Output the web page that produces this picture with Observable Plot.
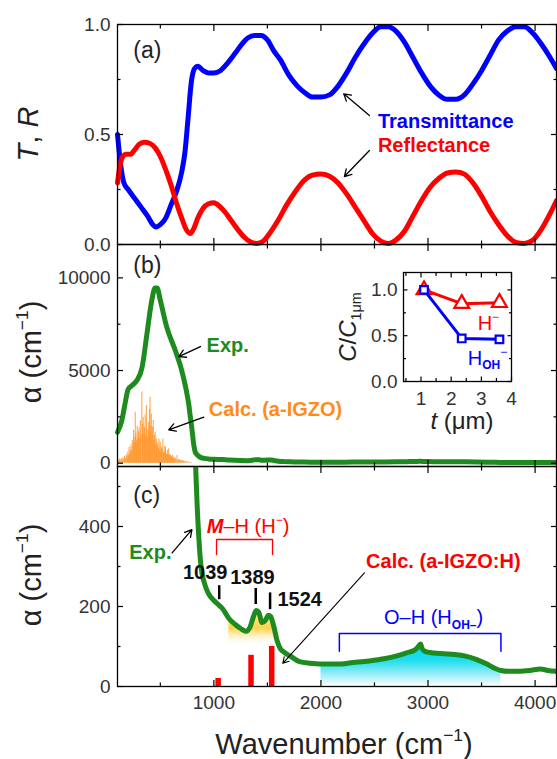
<!DOCTYPE html>
<html><head><meta charset="utf-8">
<script src="https://cdn.jsdelivr.net/npm/d3@7"></script>
<script src="https://cdn.jsdelivr.net/npm/@observablehq/plot@0.6"></script>
<style>
body{margin:0;background:#fff;}
#chart{position:relative;width:557px;height:759px;font-family:"Liberation Sans",Arial,Helvetica,sans-serif;overflow:hidden;background:#fff;}
#chart svg{position:absolute;left:0;}
.lbl{position:absolute;white-space:nowrap;line-height:1;}
.lbl sup{font-size:0.6em;position:relative;top:-0.75em;vertical-align:baseline;}
.lbl sub{font-size:0.6em;position:relative;top:0.35em;vertical-align:baseline;}
</style></head><body><div id="chart"></div>
<script>
// ---------- data ----------
const wavenumberT = [100,130,160,200,260,320,380,430,460,500,550,600,650,700,730,760,790,820,850,900,950,1000,1060,1120,1200,1260,1320,1380,1440,1500,1560,1620,1700,1780,1850,1920,2000,2080,2160,2240,2320,2400,2480,2560,2630,2700,2780,2860,2940,3020,3100,3180,3260,3340,3420,3500,3580,3660,3740,3820,3900,3980,4060,4140,4200];
const transmittance = [0.50,0.36,0.28,0.25,0.21,0.17,0.13,0.09,0.08,0.09,0.12,0.18,0.24,0.33,0.42,0.58,0.74,0.80,0.81,0.79,0.78,0.78,0.79,0.82,0.87,0.91,0.94,0.95,0.95,0.93,0.88,0.84,0.77,0.72,0.69,0.67,0.67,0.68,0.72,0.78,0.85,0.91,0.96,0.99,0.99,0.97,0.92,0.85,0.78,0.72,0.68,0.66,0.66,0.68,0.73,0.79,0.86,0.93,0.97,0.99,0.99,0.96,0.91,0.85,0.80];
const wavenumberR = [100,120,150,180,220,260,300,350,400,450,500,550,600,650,700,740,780,810,850,900,950,1000,1050,1100,1160,1220,1280,1340,1400,1460,1520,1600,1680,1760,1840,1920,2000,2080,2160,2240,2320,2400,2480,2560,2630,2700,2780,2860,2940,3020,3100,3180,3260,3340,3420,3500,3580,3660,3740,3820,3900,3980,4060,4140,4200];
const reflectance = [0.28,0.35,0.40,0.41,0.41,0.43,0.455,0.465,0.46,0.44,0.40,0.34,0.27,0.19,0.12,0.07,0.05,0.07,0.12,0.165,0.185,0.19,0.175,0.15,0.11,0.07,0.035,0.012,0.005,0.015,0.05,0.11,0.18,0.24,0.29,0.315,0.32,0.31,0.28,0.23,0.17,0.11,0.05,0.015,0.005,0.02,0.06,0.13,0.20,0.26,0.30,0.325,0.33,0.32,0.28,0.22,0.15,0.09,0.04,0.01,0.005,0.02,0.07,0.14,0.20];

const expWavenumber = [100,140,170,200,235,280,330,375,420,450,470,500,560,640,700,740,765,780,797,812,825,840,860,880,910,950,1000,1040,1080,1140,1200,1250,1300,1340,1370,1395,1420,1450,1480,1510,1530,1560,1590,1620,1660,1720,1800,1900,2000,2150,2300,2450,2600,2700,2800,2880,2910,2930,2945,2970,3050,3150,3250,3350,3450,3550,3620,3680,3750,3850,3950,4050,4120,4200];
const expAlpha = [1670,2300,3200,4000,4190,4460,5180,6980,8780,9450,9450,8780,7340,6080,5000,4000,3200,2500,1760,1000,620,480,370,300,260,232,215,205,195,170,155,145,138,150,175,190,185,160,165,178,175,150,115,95,85,75,62,58,56,56,60,64,70,76,84,92,100,106,95,88,84,82,80,76,68,56,46,40,38,38,40,44,40,38];

const calcIGZOWavenumber = [110,118,126,134,142,150,158,166,174,182,190,196,202,208,214,220,226,232,238,244,250,256,262,266,272,278,284,290,296,302,308,314,320,328,334,340,346,352,358,364,370,376,382,388,394,400,404,410,416,422,428,434,440,446,452,458,464,470,476,482,488,494,500,506,512,518,524,530,536,542,548,554,560,566,572,578,584,590,596,602,608,614,620,626,632,640,648,656,664,672,680,688,696,704,712,720,730,740,750,760,775,790];
const calcIGZOAlpha = [150,220,120,260,180,300,200,380,250,450,320,600,420,860,520,700,1000,640,1220,900,1760,1100,1400,2750,1580,1200,2000,1350,1700,1900,1300,2300,1500,3830,2100,2480,1600,1940,2600,1500,3110,1800,1400,2210,1700,2900,3560,2000,2660,1600,1940,2300,1220,1500,1670,1000,1300,950,1100,800,1310,700,1130,600,860,750,1310,550,600,900,860,480,500,680,450,780,400,470,410,320,360,410,250,320,230,280,180,410,150,200,180,120,150,100,140,90,110,70,90,60,50,40];

const calcIGZOHWavenumber = [1040,1347,1540];
const calcIGZOHAlpha = [20,78,100];

const insetThickness = [1.1,2.35,3.6];
const insetHminus = [1.0,0.85,0.86];
const insetHOH = [1.0,0.47,0.46];

const xMajorTicks = [1000,2000,3000,4000];
const xMinorTicks = [500,1500,2500,3500];
const peakLabels = ["1039","1389","1524"];
const peakTickX = [1050,1391,1525];

// ---------- helpers ----------
const FONT = '"Liberation Sans", Arial, Helvetica, sans-serif';
const chart = document.getElementById("chart");
const X_DOMAIN = [100, 4200];
const zip = (xs, ys) => xs.map((x, i) => ({x, y: ys[i]}));

function axesMarks({yMajor, yMinor, yFormat, xLabels, xMaj = xMajorTicks, xMin = xMinorTicks, major = 6, minor = 3.5, xPad = 9, yPad = 7}) {
  const m = [];
  for (const anchor of ["bottom", "top"]) {
    m.push(Plot.axisX({anchor, ticks: xMaj, tickSize: -major, tickFormat: () => "", label: null, color: "black", strokeWidth: 1.2}));
    m.push(Plot.axisX({anchor, ticks: xMin, tickSize: -minor, tickFormat: () => "", label: null, color: "black", strokeWidth: 1.2}));
  }
  for (const anchor of ["left", "right"]) {
    m.push(Plot.axisY({anchor, ticks: yMajor, tickSize: -major, tickFormat: () => "", label: null, color: "black", strokeWidth: 1.2}));
    m.push(Plot.axisY({anchor, ticks: yMinor, tickSize: -minor, tickFormat: () => "", label: null, color: "black", strokeWidth: 1.2}));
  }
  m.push(Plot.axisY({anchor: "left", ticks: yMajor, tickSize: 0, tickPadding: yPad, tickFormat: yFormat, label: null, color: "#333", fontSize: 19}));
  if (xLabels) m.push(Plot.axisX({anchor: "bottom", ticks: xMaj, tickSize: 0, tickPadding: xPad, tickFormat: d => String(d), label: null, color: "#333", fontSize: 19}));
  m.push(Plot.frame({stroke: "black", strokeWidth: 1.3}));
  return m;
}
const txt = (t, x, y, opts = {}) => Plot.text([{t, x, y}], {x: "x", y: "y", text: "t", textAnchor: "start", fontSize: 20, fontWeight: "bold", ...opts});
const arr = (x1, y1, x2, y2, opts = {}) => Plot.arrow([{x1, y1, x2, y2}], {x1: "x1", y1: "y1", x2: "x2", y2: "y2", stroke: "black", strokeWidth: 1.3, headLength: 9, ...opts});
const place = (svg, top) => { svg.style.top = top + "px"; chart.append(svg); return svg; };
function label(html, x, y, {size = 20, color = "black", weight = "normal", anchor = "middle", rotate = 0} = {}) {
  const d = document.createElement("div");
  d.className = "lbl";
  d.innerHTML = html;
  d.style.left = x + "px"; d.style.top = y + "px";
  d.style.fontSize = size + "px"; d.style.color = color; d.style.fontWeight = weight;
  const tx = anchor === "start" ? "0" : anchor === "end" ? "-100%" : "-50%";
  d.style.transform = `translate(${tx}, -50%)` + (rotate ? ` rotate(${rotate}deg)` : "");
  chart.append(d);
}
const baseStyle = {background: "transparent", fontFamily: FONT, overflow: "visible"};

// ---------- panel (a) ----------
const plotA = place(Plot.plot({
  width: 557, height: 250, marginLeft: 117, marginRight: 1, marginTop: 24, marginBottom: 6,
  x: {domain: X_DOMAIN}, y: {domain: [0, 1]}, style: baseStyle,
  marks: [
    Plot.line(zip(wavenumberT, transmittance), {x: "x", y: "y", stroke: "#0000ff", strokeWidth: 5, curve: "monotone-x"}),
    Plot.line(zip(wavenumberR, reflectance), {x: "x", y: "y", stroke: "#ff0000", strokeWidth: 5, curve: "monotone-x"}),
    ...axesMarks({yMajor: [0, 0.5, 1], yMinor: [0.25, 0.75], yFormat: d3.format(".1f")}),
    txt("(a)", 247, 0.882, {fontSize: 23, fontWeight: "normal", fill: "#222"}),
    txt("Transmittance", 2532, 0.559, {fill: "#0000ff"}),
    txt("Reflectance", 2532, 0.45, {fill: "#ff0000"}),
    arr(2453, 0.586, 2213, 0.685),
    arr(2453, 0.427, 2219, 0.309)
  ]
}), 0);

// ---------- panel (b) ----------
const plotB = place(Plot.plot({
  width: 557, height: 234, marginLeft: 117, marginRight: 1, marginTop: 6, marginBottom: 6,
  x: {domain: X_DOMAIN}, y: {domain: [-178, 11800]}, style: baseStyle,
  marks: [
    Plot.ruleX(zip(calcIGZOWavenumber, calcIGZOAlpha), {x: "x", y1: 0, y2: "y", stroke: "#ff8c1a", strokeWidth: 1.1, strokeOpacity: 0.75}),
    Plot.line(zip(expWavenumber, expAlpha), {x: "x", y: "y", stroke: "#1e8b1e", strokeWidth: 5, curve: "monotone-x"}),
    ...axesMarks({yMajor: [0, 5000, 10000], yMinor: [2500, 7500], yFormat: d => String(d)}),
    txt("(b)", 247, 10664, {fontSize: 23, fontWeight: "normal", fill: "#222"}),
    txt("Exp.", 932, 6348, {fill: "#1e8b1e"}),
    arr(875, 6294, 672, 5755),
    txt("Calc. (a-IGZO)", 953, 2880, {fill: "#ff8c1a"}),
    arr(906, 2481, 578, 1801)
  ]
}), 238);

// ---------- panel (c) ----------
const gradients = () => {
  const defs = document.createElementNS("http://www.w3.org/2000/svg", "defs");
  defs.innerHTML = `
    <linearGradient id="gradYellow" x1="0" y1="0" x2="0" y2="1">
      <stop offset="0" stop-color="#fff2a8"/>
      <stop offset="0.5" stop-color="#ffd24a"/>
      <stop offset="1" stop-color="#ffffff" stop-opacity="0"/>
    </linearGradient>
    <linearGradient id="gradCyan" x1="0" y1="0" x2="0" y2="1">
      <stop offset="0" stop-color="#00d4ec"/>
      <stop offset="0.4" stop-color="#22def0"/>
      <stop offset="0.8" stop-color="#b4f1f8"/>
      <stop offset="1" stop-color="#ffffff"/>
    </linearGradient>`;
  return defs;
};
const expData = zip(expWavenumber, expAlpha);
const plotC = place(Plot.plot({
  width: 557, height: 299, marginLeft: 117, marginRight: 1, marginTop: 6, marginBottom: 73,
  x: {domain: X_DOMAIN}, y: {domain: [0, 550]}, style: baseStyle,
  marks: [
    gradients,
    Plot.areaY(expData.filter(d => d.x >= 1140 && d.x <= 1600), {x: "x", y1: 100, y2: "y", fill: "url(#gradYellow)", curve: "monotone-x"}),
    Plot.areaY(expData.filter(d => d.x >= 2000 && d.x <= 3680), {x: "x", y1: 0, y2: "y", fill: "url(#gradCyan)", curve: "monotone-x"}),
    Plot.ruleX(zip(calcIGZOHWavenumber, calcIGZOHAlpha), {x: "x", y1: 0, y2: "y", stroke: "#ff0000", strokeWidth: 5.5}),
    Plot.line(expData, {x: "x", y: "y", stroke: "#1e8b1e", strokeWidth: 5, curve: "monotone-x", clip: true}),
    ...axesMarks({yMajor: [0, 200, 400], yMinor: [100, 300, 500], yFormat: d => String(d), xLabels: true}),
    txt("(c)", 247, 478, {fontSize: 23, fontWeight: "normal", fill: "#222"}),
    txt("Exp.", 210, 334, {fill: "#1e8b1e"}),
    arr(610, 334, 795, 392),
    Plot.line([{x: 1025, y: 330}, {x: 1025, y: 367.5}, {x: 1548, y: 367.5}, {x: 1548, y: 330}], {x: "x", y: "y", stroke: "#ff0000", strokeWidth: 1.3}),
    Plot.line([{x: 2172, y: 88}, {x: 2172, y: 132.5}, {x: 3681, y: 132.5}, {x: 3681, y: 88}], {x: "x", y: "y", stroke: "#0000ff", strokeWidth: 1.5}),
    Plot.ruleX(peakTickX, {x: d => d, y1: [217, 205, 192], y2: [252, 245, 234], stroke: "black", strokeWidth: 2.5}),
    txt(peakLabels[0], 919, 284, {textAnchor: "middle", fill: "#111"}),
    txt(peakLabels[1], 1360, 271.5, {textAnchor: "middle", fill: "#111"}),
    txt(peakLabels[2], 1594, 217.5, {fill: "#111"}),
    txt("Calc. (a-IGZO:H)", 2422, 313, {fill: "#ff0000"}),
    arr(2406, 284, 1644, 58, {strokeWidth: 1.1})
  ]
}), 460);

// ---------- inset ----------
const INSET_LEFT = 340, INSET_TOP = 262;
const plotI = Plot.plot({
  width: 175, height: 170, marginLeft: 63, marginRight: 4, marginTop: 10, marginBottom: 51,
  x: {domain: [0.42, 4]}, y: {domain: [0, 1.19]}, style: baseStyle,
  marks: [
    Plot.line(zip(insetThickness, insetHminus), {x: "x", y: "y", stroke: "#ff0000", strokeWidth: 3}),
    Plot.dot(zip(insetThickness, insetHminus), {x: "x", y: "y", symbol: "triangle", r: 5.5, stroke: "#ff0000", fill: "white", strokeWidth: 2.2}),
    Plot.line(zip(insetThickness, insetHOH), {x: "x", y: "y", stroke: "#0000ff", strokeWidth: 3}),
    Plot.dot(zip(insetThickness, insetHOH), {x: "x", y: "y", symbol: "square", r: 4.3, stroke: "#0000ff", fill: "white", strokeWidth: 2.2}),
    ...axesMarks({yMajor: [0, 0.5, 1], yMinor: [0.25, 0.75], yFormat: d3.format(".1f"), xLabels: true, xMaj: [1, 2, 3, 4], xMin: [0.5, 1.5, 2.5, 3.5], major: 4.5, minor: 3, xPad: 10, yPad: 6})
  ]
});
plotI.style.left = INSET_LEFT + "px";
place(plotI, INSET_TOP);

// ---------- rich-text labels ----------
const cx = (p, v, left = 0) => left + p.scale("x").apply(v);
const cy = (p, v, top) => top + p.scale("y").apply(v);
label("<i>T</i>, <i>R</i>", 28, 134, {size: 29, color: "#222", rotate: -90});
label("α (cm<sup>−1</sup>)", 31, 352, {size: 29, color: "#222", rotate: -90});
label("α (cm<sup>−1</sup>)", 31, 575, {size: 29, color: "#222", rotate: -90});
label("Wavenumber (cm<sup>−1</sup>)", 344, 744, {size: 29, color: "#222"});
label("<b><i>M</i></b>–H (H<sup>−</sup>)", cx(plotC, 938), cy(plotC, 401, 460), {size: 20, color: "#ff0000", anchor: "start"});
label("O–H (H<sub><b>OH–</b></sub>)", cx(plotC, 2594), cy(plotC, 171.5, 460), {size: 20, color: "#0000ff", anchor: "start"});
label("H<sup>−</sup>", cx(plotI, 3.25, INSET_LEFT), cy(plotI, 0.63, INSET_TOP), {size: 20, color: "#ff0000"});
label("H<sub><b>OH</b></sub><sup>−</sup>", cx(plotI, 3.22, INSET_LEFT), cy(plotI, 0.25, INSET_TOP), {size: 20, color: "#0000ff"});
label("<i>C</i>/<i>C</i><sub>1μm</sub>", 348, 327, {size: 24, color: "#222", rotate: -90});
label("<i>t</i> (μm)", 462, 421, {size: 24, color: "#222"});
</script></body></html>
